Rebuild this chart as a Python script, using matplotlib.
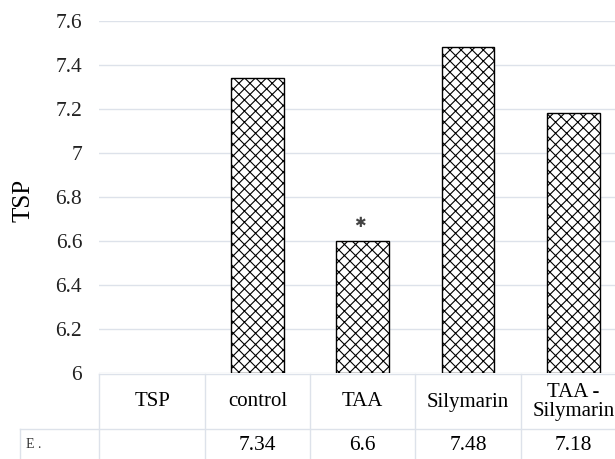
# TSP bar chart with data table (Excel style)
import matplotlib.pyplot as plt
from matplotlib.lines import Line2D

plt.rcParams['font.family'] = ['Liberation Serif', 'DejaVu Serif']
plt.rcParams['hatch.linewidth'] = 0.8

# Data
categories = ['TSP', 'control', 'TAA', 'Silymarin', 'TAA -\nSilymarin']
values = [None, 7.34, 6.6, 7.48, 7.18]
value_labels = ['', '7.34', '6.6', '7.48', '7.18']
yticks = [6, 6.2, 6.4, 6.6, 6.8, 7, 7.2, 7.4, 7.6]
ytick_labels = ['6', '6.2', '6.4', '6.6', '6.8', '7', '7.2', '7.4', '7.6']
star_category = 'TAA'

W, H = 615, 459
fig = plt.figure(figsize=(W / 100, H / 100), dpi=100)

# plot area in pixels: left 99.5, right 626, top 21, bottom 373
ax = fig.add_axes([99.5 / W, 1 - 373 / H, (626 - 99.5) / W, (373 - 21) / H])

xs = list(range(len(categories)))
bx = [x for x, v in zip(xs, values) if v is not None]
bv = [v for v in values if v is not None]
ax.bar(bx, [v - 6 for v in bv], bottom=6, width=0.5, color='white',
       edgecolor='black', linewidth=1.0, hatch='xxx', zorder=3)

# asterisk above TAA
i = categories.index(star_category)
ax.text(xs[i] - 0.03, values[i] + 0.08, '\u2731', ha='center', va='center',
        fontsize=10, color='#444444', family='DejaVu Sans', zorder=4)

ax.set_xlim(-0.5, len(categories) - 0.5)
ax.set_ylim(6, 7.6)
ax.set_yticks(yticks)
ax.set_yticklabels(ytick_labels, fontsize=15.5, color='#222222')
ax.set_xticks([])
ax.tick_params(axis='y', length=0, pad=12.5)
ax.grid(axis='y', color='#dde2ea', linewidth=1.0, zorder=0)
for s in ax.spines.values():
    s.set_visible(False)

fig.text(24 / W, 1 - 200 / H, 'TSP', rotation=90, ha='center', va='center',
         fontsize=18)

# data table below the plot, columns follow the category slots
line_col = '#dde2ea'
def px_line(x0, y0, x1, y1):
    fig.add_artist(Line2D([x0 / W, x1 / W], [1 - y0 / H, 1 - y1 / H],
                          color=line_col, linewidth=1.0))

to_fig = lambda x: fig.transFigure.inverted().transform(
    ax.transData.transform((x, 6)))[0]

px_line(99.5, 374, 615, 374)
px_line(20, 429, 615, 429)
px_line(20, 429, 20, 459)
for k in range(len(categories)):
    xf = to_fig(k - 0.5)
    fig.add_artist(Line2D([xf, xf], [1 - 374 / H, 0], color=line_col,
                          linewidth=1.0))

for k, lab in enumerate(categories):
    fig.text(to_fig(k), 1 - 402 / H, lab, ha='center', va='center',
             fontsize=15, linespacing=0.95)
for k, lab in enumerate(value_labels):
    fig.text(to_fig(k), 1 - 445 / H, lab, ha='center', va='center',
             fontsize=15.5)

fig.text(26 / W, 1 - 444 / H, 'E .', ha='left', va='center', fontsize=10,
         color='#333333')

fig.savefig('out.png', dpi=100)
